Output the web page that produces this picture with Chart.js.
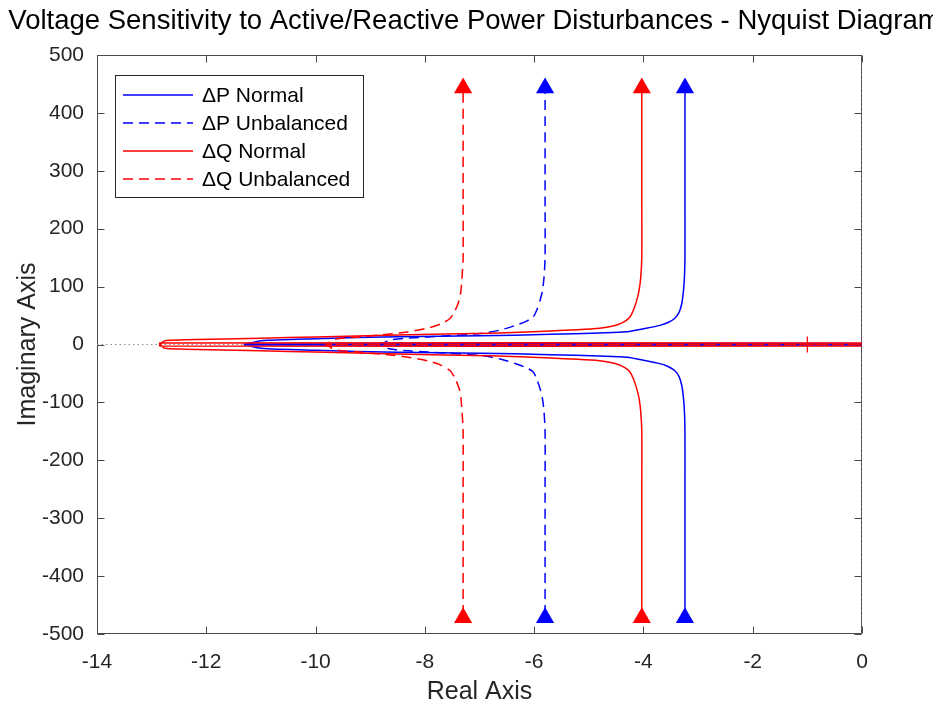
<!DOCTYPE html>
<html>
<head>
<meta charset="UTF-8">
<title>Nyquist Diagram</title>
<script src="https://cdn.jsdelivr.net/npm/chart.js"></script>
<style>
  html, body { margin: 0; padding: 0; background: #fff; }
</style>
</head>
<body>
<canvas id="nyq" width="933" height="711"></canvas>
<script>
  // axis ticks
  const xTicks = [-14, -12, -10, -8, -6, -4, -2, 0];
  const xTickLabels = ['-14', '-12', '-10', '-8', '-6', '-4', '-2', '0'];
  const yTicks = [-500, -400, -300, -200, -100, 0, 100, 200, 300, 400, 500];
  const yTickLabels = ['-500', '-400', '-300', '-200', '-100', '0', '100', '200', '300', '400', '500'];

  const seriesNames = ['ΔP Normal', 'ΔP Unbalanced', 'ΔQ Normal', 'ΔQ Unbalanced'];

  // ΔP Normal: branch points from the arrow down to the tip (x shared by both branches)
  const pNormX    = [-3.24, -3.24, -3.24, -3.25, -3.27, -3.30, -3.35, -3.43, -3.55, -3.70, -3.95, -4.30, -4.80, -5.70, -7.00, -8.50, -10.00, -11.00, -11.30];
  const pNormUpY  = [440, 250, 150, 115, 90, 70, 55, 45, 38, 33, 28, 22, 20, 17.5, 15, 13.5, 10, 6.5, 0];
  const pNormLowY = [-467, -250, -150, -115, -90, -70, -55, -45, -38, -33, -28, -22, -20, -17.5, -15, -13.5, -10, -6.5, 0];
  const pNormMidX = [-11.30, 0, 0, -11.30];
  const pNormMidY = [-1, -1, 1, 1];

  // ΔP Unbalanced
  const pUnbX    = [-5.80, -5.80, -5.80, -5.82, -5.85, -5.89, -5.95, -6.02, -6.15, -6.31, -6.62, -6.94, -7.60, -8.30, -8.65, -8.80];
  const pUnbUpY  = [440, 250, 150, 115, 92, 77, 60, 47, 40, 34, 25, 19.5, 15, 11, 7.5, 0];
  const pUnbLowY = [-467, -250, -150, -115, -92, -77, -60, -47, -40, -34, -25, -19.5, -15, -11, -7.5, 0];
  const pUnbMidX = [-8.80, 0, 0, -8.80];
  const pUnbMidY = [0, 0, 0, 0];

  // ΔQ Normal
  const qNormX    = [-4.03, -4.03, -4.03, -4.05, -4.08, -4.12, -4.18, -4.25, -4.34, -4.45, -4.60, -4.80, -5.20, -5.70, -6.80, -8.50, -10.00, -11.00, -12.40, -12.76, -12.85];
  const qNormUpY  = [440, 250, 150, 115, 93, 77, 60, 47, 40, 35, 31, 28, 25.5, 23.5, 19.5, 16.5, 13, 11, 8, 6.5, 0];
  const qNormLowY = [-467, -250, -150, -115, -93, -77, -60, -47, -40, -35, -31, -28, -25.5, -23.5, -19.5, -16.5, -13, -11, -8, -6.5, 0];
  const qNormMidX = [-12.85, 0, 0, -12.85];
  const qNormMidY = [-2.5, -2.5, 2.5, 2.5];

  // ΔQ Unbalanced
  const qUnbX    = [-7.30, -7.30, -7.30, -7.32, -7.34, -7.37, -7.45, -7.54, -7.70, -7.94, -8.33, -8.64, -9.20, -9.65, -9.80];
  const qUnbUpY  = [440, 250, 150, 115, 93, 77, 58, 45, 36, 28.5, 21.6, 18, 13, 9, 0];
  const qUnbLowY = [-467, -250, -150, -115, -93, -77, -58, -45, -36, -28.5, -21.6, -18, -13, -9, 0];
  const qUnbMidX = [-9.80, 0, 0, -9.80];
  const qUnbMidY = [0, 0, 0, 0];

  // direction arrows and the critical point
  const arrowTopY = 443;
  const arrowBottomY = -472;
  const criticalPoint = [-1, 0];

  const BLUE = '#0000ff';
  const RED = '#ff0000';
  const FONT = "'Liberation Sans', Arial, Helvetica, sans-serif";

  function nyquistPath(xs, lowY, upY, midX, midY) {
    const pts = [];
    xs.forEach((x, i) => pts.push({ x: x, y: lowY[i] }));
    midX.forEach((x, i) => pts.push({ x: x, y: midY[i] }));
    for (let i = xs.length - 1; i >= 0; i--) pts.push({ x: xs[i], y: upY[i] });
    return pts;
  }

  function curve(label, pts, color, dashed, order) {
    return {
      label: label,
      data: pts,
      showLine: true,
      borderColor: color,
      backgroundColor: color,
      borderWidth: 1.5,
      borderDash: dashed ? [10, 6] : [],
      pointRadius: 0,
      tension: 0.25,
      order: order
    };
  }

  function arrows(xs, color) {
    const pts = [];
    xs.forEach(x => { pts.push({ x: x, y: arrowTopY }); pts.push({ x: x, y: arrowBottomY }); });
    return {
      label: 'arrows',
      data: pts,
      showLine: false,
      pointStyle: 'triangle',
      pointRadius: 10.5,
      pointHoverRadius: 10.5,
      pointBackgroundColor: color,
      pointBorderColor: color,
      pointBorderWidth: 0,
      order: -1
    };
  }

  const datasets = [
    curve(seriesNames[0], nyquistPath(pNormX, pNormLowY, pNormUpY, pNormMidX, pNormMidY), BLUE, false, 4),
    curve(seriesNames[1], nyquistPath(pUnbX, pUnbLowY, pUnbUpY, pUnbMidX, pUnbMidY), BLUE, true, 3),
    curve(seriesNames[2], nyquistPath(qNormX, qNormLowY, qNormUpY, qNormMidX, qNormMidY), RED, false, 2),
    curve(seriesNames[3], nyquistPath(qUnbX, qUnbLowY, qUnbUpY, qUnbMidX, qUnbMidY), RED, true, 1),
    arrows([pNormX[0], pUnbX[0]], BLUE),
    arrows([qNormX[0], qUnbX[0]], RED),
    {
      label: 'critical',
      data: [{ x: criticalPoint[0], y: criticalPoint[1] }],
      showLine: false,
      pointStyle: 'cross',
      pointRadius: 8,
      pointBorderColor: RED,
      pointBorderWidth: 1.2,
      order: -2
    },
    {
      label: 'real axis',
      data: [{ x: -14, y: 0 }, { x: 0, y: 0 }],
      showLine: true,
      borderColor: '#8c8c8c',
      borderWidth: 1,
      borderDash: [1.5, 3],
      pointRadius: 0,
      order: 10
    },
    {
      label: 'imag axis',
      data: [{ x: 0, y: -500 }, { x: 0, y: 500 }],
      showLine: true,
      borderColor: '#8c8c8c',
      borderWidth: 1,
      borderDash: [1.5, 3],
      pointRadius: 0,
      order: 10
    }
  ];

  // box, inward ticks and title
  const frame = {
    id: 'frame',
    beforeDatasetsDraw(chart) {
      const { ctx, chartArea: a, scales: { x, y } } = chart;
      const L = Math.round(a.left) + 0.5, R = Math.round(a.right) - 0.5;
      const T = Math.round(a.top) + 0.5, B = Math.round(a.bottom) - 0.5;
      ctx.save();
      ctx.strokeStyle = '#4a4a4a';
      ctx.lineWidth = 1;
      ctx.strokeRect(L, T, R - L, B - T);
      ctx.beginPath();
      xTicks.forEach(v => {
        const px = Math.round(x.getPixelForValue(v)) + 0.5;
        ctx.moveTo(px, B); ctx.lineTo(px, B - 7);
        ctx.moveTo(px, T); ctx.lineTo(px, T + 7);
      });
      yTicks.forEach(v => {
        const py = Math.round(y.getPixelForValue(v)) + 0.5;
        ctx.moveTo(L, py); ctx.lineTo(L + 7, py);
        ctx.moveTo(R, py); ctx.lineTo(R - 7, py);
      });
      ctx.stroke();
      ctx.restore();
    },
    afterDraw(chart) {
      const { ctx, chartArea: a } = chart;
      ctx.save();
      ctx.fillStyle = '#000';
      ctx.font = '27.5px ' + FONT;
      ctx.textAlign = 'center';
      ctx.textBaseline = 'middle';
      ctx.fillText('Voltage Sensitivity to Active/Reactive Power Disturbances - Nyquist Diagram', (a.left + a.right) / 2 - 5, 21);
      ctx.restore();
    }
  };

  // legend box inside the axes, top-left
  const boxLegend = {
    id: 'boxLegend',
    afterDraw(chart) {
      const { ctx } = chart;
      const bx = 115.5, by = 75.5, bw = 248, bh = 122;
      ctx.save();
      ctx.fillStyle = '#fff';
      ctx.fillRect(bx, by, bw, bh);
      ctx.strokeStyle = '#262626';
      ctx.lineWidth = 1;
      ctx.strokeRect(bx, by, bw, bh);
      ctx.font = '21px ' + FONT;
      ctx.textBaseline = 'middle';
      ctx.textAlign = 'left';
      for (let i = 0; i < 4; i++) {
        const ds = chart.data.datasets[i];
        const cy = 95 + i * 28;
        ctx.strokeStyle = ds.borderColor;
        ctx.lineWidth = 1.5;
        ctx.setLineDash(ds.borderDash);
        ctx.beginPath();
        ctx.moveTo(123, cy);
        ctx.lineTo(193, cy);
        ctx.stroke();
        ctx.setLineDash([]);
        ctx.fillStyle = '#000';
        ctx.fillText(ds.label, 202, cy + 1);
      }
      ctx.restore();
    }
  };

  new Chart(document.getElementById('nyq'), {
    type: 'scatter',
    data: { datasets: datasets },
    options: {
      responsive: false,
      animation: false,
      devicePixelRatio: 1,
      layout: { padding: { top: 55, right: 71, left: 0, bottom: 0 } },
      plugins: {
        legend: { display: false },
        title: { display: false },
        tooltip: { enabled: false }
      },
      scales: {
        x: {
          type: 'linear',
          min: -14,
          max: 0,
          afterFit: s => { s.height = 77; },
          afterBuildTicks: s => { s.ticks = xTicks.map(v => ({ value: v })); },
          ticks: {
            callback: v => xTickLabels[xTicks.indexOf(v)],
            color: '#262626',
            font: { family: FONT, size: 21 },
            padding: 16,
            maxRotation: 0,
            autoSkip: false
          },
          grid: { display: false, drawTicks: false },
          border: { display: false },
          title: {
            display: true,
            text: 'Real Axis',
            color: '#262626',
            font: { family: FONT, size: 25 },
            padding: { top: 0, bottom: 4 }
          }
        },
        y: {
          type: 'linear',
          min: -500,
          max: 500,
          afterFit: s => { s.width = 97; },
          afterBuildTicks: s => { s.ticks = yTicks.map(v => ({ value: v })); },
          ticks: {
            callback: v => yTickLabels[yTicks.indexOf(v)],
            color: '#262626',
            font: { family: FONT, size: 21 },
            padding: 13,
            autoSkip: false
          },
          grid: { display: false, drawTicks: false },
          border: { display: false },
          title: {
            display: true,
            text: 'Imaginary Axis',
            color: '#262626',
            font: { family: FONT, size: 25 },
            padding: { top: 13, bottom: 0 }
          }
        }
      }
    },
    plugins: [frame, boxLegend]
  });
</script>
</body>
</html>
